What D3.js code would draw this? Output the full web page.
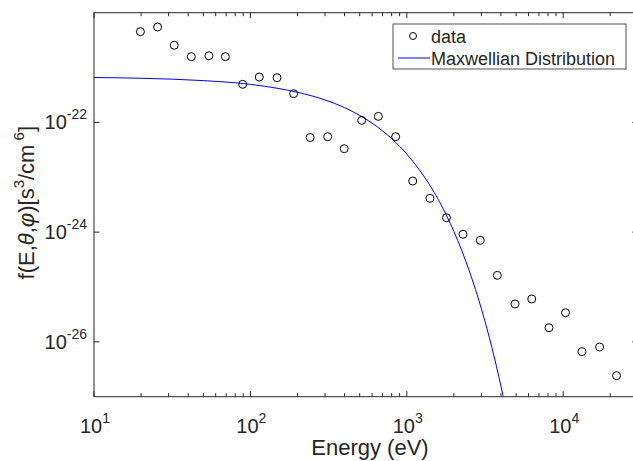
<!DOCTYPE html>
<html><head><meta charset="utf-8">
<script src="https://cdn.jsdelivr.net/npm/d3@7"></script>
<style>body{margin:0;background:#fff}svg{display:block}text{font-family:"Liberation Sans",Arial,sans-serif;fill:#262626}</style>
</head><body><svg id="c" width="633" height="461"></svg>
<script>
// data
const dataEnergy = [19.8,25.5,32.6,41.9,54.3,69.2,89.3,114,148,189,241,312,398,515,658,849,1091,1407,1794,2288,2951,3792,4921,6295,8116,10350,13190,17100,21930];
const dataF = [4.51e-21,5.48e-21,2.55e-21,1.58e-21,1.64e-21,1.58e-21,4.95e-22,6.73e-22,6.54e-22,3.34e-22,5.31e-23,5.49e-23,3.32e-23,1.09e-22,1.29e-22,5.49e-23,8.55e-24,4.14e-24,1.83e-24,9.13e-25,7.10e-25,1.63e-25,4.90e-26,6.04e-26,1.81e-26,3.40e-26,6.62e-27,8.05e-27,2.42e-27];
const maxwellEnergy = [10,20,50,100,150,200,300,400,500,600,700,800,900,1000,1200,1400,1600,1800,2000,2250,2500,2750,3000,3250,3500,3750,4000,4250,4500];
const maxwellF = [6.59e-22,6.38e-22,5.78e-22,4.94e-22,4.17e-22,3.54e-22,2.57e-22,1.86e-22,1.34e-22,9.71e-23,7.00e-23,5.07e-23,3.66e-23,2.65e-23,1.38e-23,7.25e-24,3.79e-24,1.98e-24,1.03e-24,4.57e-25,2.03e-25,9.0e-26,4.0e-26,1.78e-26,7.9e-27,3.5e-27,1.56e-27,6.9e-28,3.1e-28];
const xTickExps = [1,2,3,4];
const yTickExps = [-22,-24,-26];
const legendLabels = ["data","Maxwellian Distribution"];

const svg = d3.select("#c");
const L=94, R=637.8, T=12.7, B=396.7;
const x = d3.scaleLog().domain([10,3e4]).range([L,R]);
const y = d3.scaleLog().domain([1e-27,1e-20]).range([B,T]);
const axisColor="#262626";

svg.append("defs").append("clipPath").attr("id","clip").append("rect")
  .attr("x",L).attr("y",T).attr("width",R-L).attr("height",B-T);

const g = svg.append("g");
x.ticks().forEach(v=>{
  const lg=Math.log10(v), major=Math.abs(lg-Math.round(lg))<1e-9;
  const len = major?5.5:3.5, px=x(v);
  if(px<L-0.1||px>R) return;
  g.append("line").attr("x1",px).attr("x2",px).attr("y1",B).attr("y2",B-len).attr("stroke",axisColor).attr("stroke-width",1);
  g.append("line").attr("x1",px).attr("x2",px).attr("y1",T).attr("y2",T+len).attr("stroke",axisColor).attr("stroke-width",1);
});
yTickExps.forEach(e=>{
  const py=y(Math.pow(10,e));
  g.append("line").attr("x1",L).attr("x2",L+5.5).attr("y1",py).attr("y2",py).attr("stroke",axisColor);
  g.append("line").attr("x1",R).attr("x2",R-5.5).attr("y1",py).attr("y2",py).attr("stroke",axisColor);
});
svg.append("rect").attr("x",L).attr("y",T).attr("width",R-L).attr("height",B-T)
  .attr("fill","none").attr("stroke",axisColor).attr("stroke-width",1);

// x tick labels
xTickExps.forEach(e=>{
  const t=svg.append("text").attr("x",x(Math.pow(10,e))+1).attr("y",433).attr("text-anchor","middle").style("font-size","20px");
  t.append("tspan").text("10");
  t.append("tspan").attr("dy",-10).style("font-size","14px").text(e);
});
// y tick labels
yTickExps.forEach(e=>{
  const py=y(Math.pow(10,e));
  const t=svg.append("text").attr("x",87).attr("y",py+7).attr("text-anchor","end").style("font-size","20px");
  t.append("tspan").text("10");
  t.append("tspan").attr("dy",-10).style("font-size","14px").text(e);
});
// axis labels
svg.append("text").attr("x",370).attr("y",455).attr("text-anchor","middle").style("font-size","22px").text("Energy (eV)");
const yl=svg.append("text").attr("transform",`translate(34,${(T+B)/2-2}) rotate(-90)`).attr("text-anchor","middle").style("font-size","22px");
yl.append("tspan").text("f(E,");
yl.append("tspan").style("font-style","italic").text("θ");
yl.append("tspan").text(",");
yl.append("tspan").style("font-style","italic").text("φ");
yl.append("tspan").text(")[s");
yl.append("tspan").attr("dy",-10).style("font-size","15px").text("3");
yl.append("tspan").attr("dy",10).text("/cm");
yl.append("tspan").attr("dy",-10).style("font-size","15px").text(" 6");
yl.append("tspan").attr("dy",10).text("]");

// curve
const line=d3.line().x((d,i)=>x(maxwellEnergy[i])).y((d,i)=>y(maxwellF[i])).curve(d3.curveMonotoneX);
svg.append("path").datum(maxwellF).attr("clip-path","url(#clip)").attr("d",line)
  .attr("fill","none").attr("stroke","#0000ff").attr("stroke-width",1);

// data circles
svg.append("g").selectAll("circle").data(dataF).join("circle")
  .attr("cx",(d,i)=>x(dataEnergy[i])).attr("cy",d=>y(d)).attr("r",4)
  .attr("fill","none").attr("stroke","#000").attr("stroke-width",1);

// legend
const lg=svg.append("g");
lg.append("rect").attr("x",393).attr("y",24).attr("width",233).attr("height",45).attr("fill","#fff").attr("stroke",axisColor).attr("stroke-width",0.8);
lg.append("circle").attr("cx",413).attr("cy",36).attr("r",3.5).attr("fill","none").attr("stroke","#000");
lg.append("text").attr("x",431).attr("y",42.5).style("font-size","18px").text(legendLabels[0]);
lg.append("line").attr("x1",398).attr("x2",430).attr("y1",58).attr("y2",58).attr("stroke","#0000ff");
lg.append("text").attr("x",431).attr("y",64.5).style("font-size","18px").text(legendLabels[1]);
</script></body></html>
